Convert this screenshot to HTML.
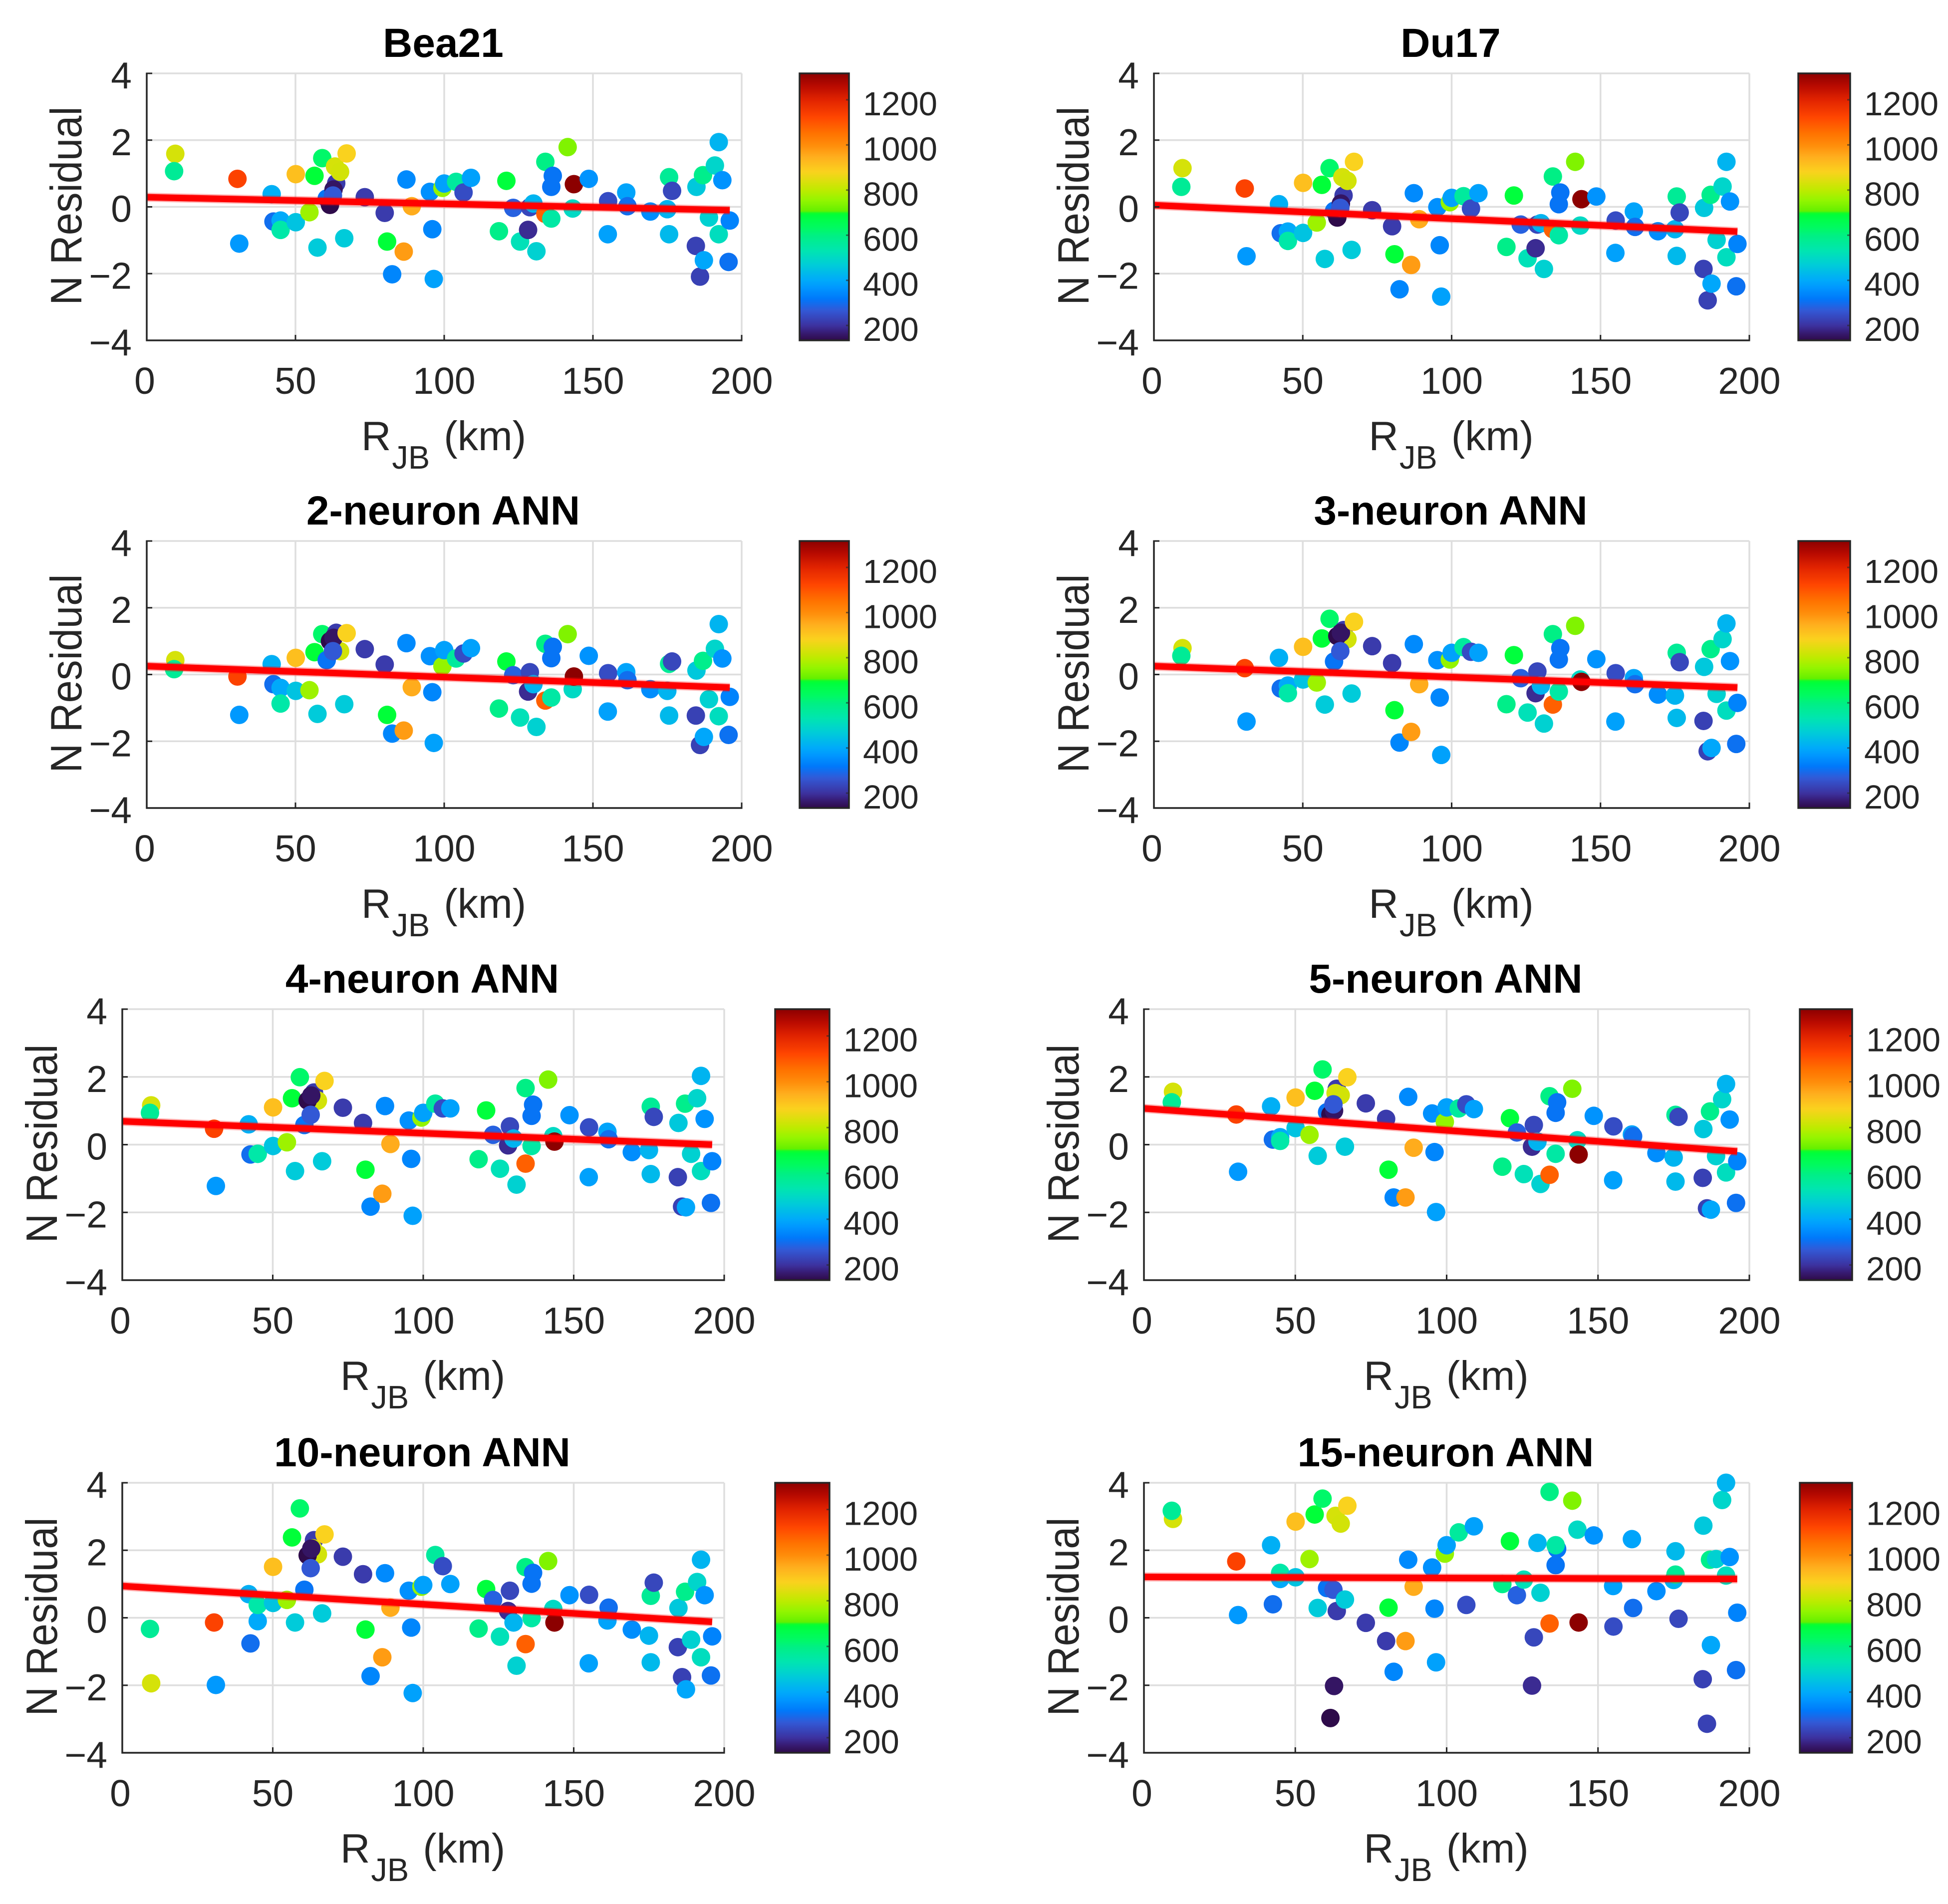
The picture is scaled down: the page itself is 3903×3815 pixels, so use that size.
<!DOCTYPE html>
<html lang="en">
<head>
<meta charset="utf-8">
<title>N Residual vs RJB</title>
<style>
html,body{margin:0;padding:0;background:#fff;}
svg{display:block;}
text{font-family:"Liberation Sans",Arial,sans-serif;fill:#262626;}
</style>
</head>
<body>
<svg id="chart" xmlns="http://www.w3.org/2000/svg" width="3903" height="3815" viewBox="0 0 3903 3815">
<defs id="defs"></defs>
<rect width="3903" height="3815" fill="#ffffff"></rect>
</svg>
<script>
const rjb = [9.6,9.2,30.5,31.1,42,42.6,45,45,50.1,50.1,
54.7,56.4,57.4,59,60.5,63.7,63.3,65,61.6,62.8,
62.6,66.4,67.2,73.3,80,80.8,82.5,86.4,87.3,89.1,
95.2,96,96.5,99.4,100,104,106.5,109,118.4,120.9,
123.2,125.5,128.2,128.8,130,131,134,134,136,136.5,
136,141.5,143.2,143.6,148.6,155,155.1,161.2,161.6,169.3,
175,175.6,175.6,176.6,184.6,184.8,186,187,187.3,189,
191,192.3,192.3,193.5,195.6,196];
const colorValues = [830,570,1130,370,410,300,400,545,450,915,
765,690,465,625,310,215,830,825,135,155,
265,465,880,215,215,690,340,975,345,950,
355,340,385,755,385,560,245,385,590,685,
280,520,190,235,420,480,595,1080,310,310,
550,735,500,1317,360,385,245,390,300,350,
420,430,570,235,225,460,225,585,395,480,
490,510,420,360,305,335];
const residualsBea21 = [1.59,1.07,.84,-1.10,.38,-.44,-.41,-.69,-.46,.98,
-.16,.93,-1.22,1.46,.25,.71,1.21,1.05,.06,.52,
.34,-.94,1.6,.29,-.18,-1.04,-2.02,-1.34,.82,.02,
.45,-.67,-2.16,.57,.7,.75,.43,.87,-.73,.78,
-.03,-1.04,-.69,-.01,.1,-1.33,1.35,-.21,.6,.93,
-.35,1.79,-.05,.68,.84,-.82,.17,.43,.02,-.14,
-.07,-.82,.89,.48,-1.17,.6,-2.09,.95,-1.6,-.32,
1.24,-.82,1.94,.8,-1.65,-.41];
const residualsDu17 = [1.16,.60,.55,-1.48,.08,-.79,-.74,-1.02,-.78,.72,
-.47,.66,-1.56,1.16,-.12,.34,.89,.78,-.32,.1,
-.03,-1.29,1.35,-.10,-.58,-1.42,-2.47,-1.74,.41,-.37,
-.01,-1.15,-2.69,.14,.27,.32,-.05,.41,-1.2,.34,
-.53,-1.54,-1.24,-.53,-.49,-1.86,.91,-.67,.08,.43,
-.85,1.35,-.56,.23,.31,-1.38,-.41,-.14,-.60,-.73,
-.67,-1.47,.31,-.17,-1.86,-.03,-2.80,.36,-2.30,-.99,
.61,-1.51,1.35,.16,-2.38,-1.11];
const residualsAnn2 = [.43,.16,-.06,-1.21,.31,-.29,-.40,-.87,-.49,.50,
-.47,.67,-1.18,1.21,.43,1.25,.74,.70,1.0,1.1,
.70,-.89,1.24,.76,.30,-1.21,-1.77,-1.68,.94,-.38,
.55,-.53,-2.05,.25,.73,.48,.63,.79,-1.02,.39,
-.02,-1.29,-.51,.07,-.29,-1.57,.92,-.78,.49,.83,
-.69,1.21,-.44,-.06,.56,-1.11,.04,.07,-.17,-.44,
-.49,-1.23,.32,.39,-1.23,.12,-2.11,.41,-1.87,-.74,
.77,-1.25,1.51,.48,-1.81,-.67];
const residualsAnn3 = [.79,.56,.19,-1.41,.50,-.42,-.33,-.56,-.15,.83,
-.24,1.08,-.90,1.67,.39,1.33,1.15,1.06,1.15,1.25,
.70,-.57,1.58,.85,.34,-1.07,-2.04,-1.72,.91,-.29,
.43,-.69,-2.41,.45,.65,.82,.68,.65,-.89,.58,
-.11,-1.14,-.56,.09,-.33,-1.47,1.21,-.90,.45,.79,
-.51,1.46,-.15,-.22,.46,-1.41,.04,-.11,-.29,-.60,
-.63,-1.30,.65,.37,-1.39,.23,-2.30,.76,-2.20,-.58,
1.06,-1.08,1.53,.40,-2.08,-.85];
const residualsAnn4 = [1.16,.94,.47,-1.22,.60,-.29,-.27,-.27,-.04,1.10,
.07,1.37,-.78,1.99,.58,1.54,1.39,1.30,1.30,1.45,
.88,-.49,1.88,1.09,.64,-.74,-1.83,-1.45,1.14,.02,
.71,-.42,-2.10,.80,.94,1.21,1.07,1.07,-.43,1.01,
.29,-.71,-.02,.54,.18,-1.18,1.67,-.56,.85,1.18,
-.04,1.92,.25,.09,.87,-.96,.51,.38,.16,-.22,
-.16,-.87,1.12,.82,-.96,.64,-1.83,1.21,-1.85,-.27,
1.37,-.78,2.03,.76,-1.72,-.49];
const residualsAnn5 = [1.56,1.25,.89,-.80,1.13,.15,.22,.11,.49,1.39,
.29,1.59,-.33,2.22,.96,1.65,1.52,1.46,.89,1.0,
1.19,-.06,1.99,1.22,.76,-.74,-1.56,-1.56,1.41,-.09,
.92,-.22,-1.99,.67,1.10,1.07,1.19,1.05,-.65,.78,
.36,-.87,-.06,.58,.09,-1.16,1.43,-.89,.94,1.25,
-.27,1.65,.13,-.29,.85,-1.05,.54,.3,.25,-.25,
-.38,-1.09,.88,.82,-.98,.46,-1.88,.98,-1.92,-.34,
1.34,-.82,1.79,.74,-1.72,-.49];
const residualsAnn10 = [-1.94,-.33,-.14,-1.99,.70,-.76,-.10,.38,.44,1.51,
.53,2.38,-.14,3.24,.83,2.3,2.06,1.88,1.85,2.05,
1.47,.13,2.47,1.81,1.29,-.35,-1.73,-1.17,1.32,.30,
.80,-.29,-2.23,.92,.97,1.86,1.53,1.00,-.32,.85,
.53,-.56,.20,.80,-.14,-1.42,1.50,-.78,1.01,1.33,
-.01,1.68,.26,-.14,.67,-1.35,.68,-.08,.30,-.35,
-.53,-1.32,.65,1.04,-.87,.29,-1.76,.77,-2.12,-.65,
1.06,-1.17,1.72,.67,-1.71,-.55];
const residualsAnn15 = [2.93,3.17,1.67,.08,2.15,.40,1.15,1.33,1.20,2.85,
1.74,3.06,.29,3.53,.88,.20,3.02,2.79,-2.97,-2.02,
.83,.54,3.32,-.15,-.69,.30,-1.60,-.69,1.72,.92,
1.49,.27,-1.32,1.90,2.15,2.53,.38,2.71,1.00,2.27,
.67,1.13,-2.01,-.58,2.22,.74,3.73,-.17,1.56,2.04,
2.15,3.47,2.61,-.14,2.44,.94,-.26,2.33,.29,.79,
1.12,1.97,1.28,-.03,-1.82,2.73,-3.14,1.72,-.81,1.74,
3.49,1.25,4.0,1.80,-1.55,.15];
const panelTitles = ["Bea21","Du17","2-neuron ANN","3-neuron ANN","4-neuron ANN","5-neuron ANN","10-neuron ANN","15-neuron ANN"];
const fitAtZero = [.29,.05,.25,.25,.69,1.07,.94,1.21];
const fitAtEnd = [-.10,-.74,-.39,-.39,0,-.20,-.12,1.15];
const fitEndDistance = 196;
const xTicks = [0,50,100,150,200];
const yTicks = [-4,-2,0,2,4];
const colorTicks = [200,400,600,800,1000,1200];
const xDomain = [0,200];
const yDomain = [-4,4];
const colorDomain = [134,1317];

// turbo-like colormap
const cmapValues = [132,164,200,268,317,365,400,470,534,600,630,687,696,707,752,800,832,880,945,1000,1050,1122,1200,1260,1317];
const cmapColors = [[45,10,70],[55,25,110],[60,50,160],[50,90,215],[0,120,250],[0,150,255],[0,170,250],[0,205,215],[0,230,175],[0,240,130],[0,250,100],[0,255,60],[0,255,50],[100,240,0],[145,245,0],[190,235,0],[215,225,10],[250,210,30],[255,175,30],[255,140,10],[255,115,0],[255,70,0],[225,35,0],[185,10,0],[140,0,0]];

// layout of each panel: axes box and colour bar box
const panelLayout = [
  {l:294,r:1486,t:147,b:682,cl:1602,cr:1701},
  {l:2312,r:3505,t:147,b:682,cl:3603,cr:3707},
  {l:294,r:1486,t:1084,b:1619,cl:1602,cr:1701},
  {l:2312,r:3505,t:1084,b:1619,cl:3603,cr:3707},
  {l:245,r:1451,t:2022,b:2565,cl:1553,cr:1662},
  {l:2292,r:3505,t:2022,b:2565,cl:3606,cr:3711},
  {l:245,r:1451,t:2971,b:3512,cl:1553,cr:1662},
  {l:2292,r:3505,t:2971,b:3512,cl:3606,cr:3711}
];
const panelResiduals = [residualsBea21,residualsDu17,residualsAnn2,residualsAnn3,residualsAnn4,residualsAnn5,residualsAnn10,residualsAnn15];

const NS = "http://www.w3.org/2000/svg";
const svg = document.getElementById("chart");
const defs = document.getElementById("defs");

function make(tag, attrs, parent){
  const el = document.createElementNS(NS, tag);
  for (const k in attrs) el.setAttribute(k, attrs[k]);
  parent.appendChild(el);
  return el;
}
function colorFor(v){
  if (v <= cmapValues[0]) return "rgb(" + cmapColors[0].join(",") + ")";
  for (let i = 1; i < cmapValues.length; i++){
    if (v <= cmapValues[i]){
      const f = (v - cmapValues[i-1]) / (cmapValues[i] - cmapValues[i-1]);
      const a = cmapColors[i-1], b = cmapColors[i];
      return "rgb(" + Math.round(a[0]+(b[0]-a[0])*f) + "," + Math.round(a[1]+(b[1]-a[1])*f) + "," + Math.round(a[2]+(b[2]-a[2])*f) + ")";
    }
  }
  return "rgb(" + cmapColors[cmapColors.length-1].join(",") + ")";
}

const gradient = make("linearGradient", {id:"cmap", x1:"0", y1:"1", x2:"0", y2:"0"}, defs);
for (let i = 0; i <= 128; i++){
  const v = colorDomain[0] + (colorDomain[1]-colorDomain[0]) * i / 128;
  make("stop", {offset:(i/128).toFixed(4), "stop-color":colorFor(v)}, gradient);
}

function tickName(v){ return String(v).replace("-", "minus-"); }

panelTitles.forEach(function(title, p){
  const box = panelLayout[p];
  const values = panelResiduals[p];
  const slug = title.toLowerCase().replace(/\s+/g, "-");
  const xScale = function(v){ return box.l + (v - xDomain[0]) / (xDomain[1] - xDomain[0]) * (box.r - box.l); };
  const yScale = function(v){ return box.b - (v - yDomain[0]) / (yDomain[1] - yDomain[0]) * (box.b - box.t); };
  const cScale = function(v){ return box.b - (v - colorDomain[0]) / (colorDomain[1] - colorDomain[0]) * (box.b - box.t); };

  const g = make("g", {}, svg);
  
  

  // grid
  xTicks.forEach(function(t){
    if (t === xDomain[0]) return;
    const line = make("line", {x1:xScale(t), x2:xScale(t), y1:box.t, y2:box.b, stroke:"#dedede", "stroke-width":3.5}, g);
    
    
  });
  yTicks.forEach(function(t){
    if (t === yDomain[0]) return;
    const line = make("line", {x1:box.l, x2:box.r, y1:yScale(t), y2:yScale(t), stroke:"#dedede", "stroke-width":3.5}, g);
    
    
  });

  // points
  rjb.forEach(function(d, i){
    const dot = make("circle", {cx:xScale(d), cy:yScale(values[i]), r:18.5, fill:colorFor(colorValues[i])}, g);
    
    
  });

  // fit line
  const endY = fitAtEnd[p];
  const halo = make("line", {x1:xScale(0), y1:yScale(fitAtZero[p]), x2:xScale(fitEndDistance), y2:yScale(endY), stroke:"#ff0000", "stroke-opacity":.3, "stroke-width":18}, g);
  
  
  const fit = make("line", {x1:xScale(0), y1:yScale(fitAtZero[p]), x2:xScale(fitEndDistance), y2:yScale(endY), stroke:"#ff0000", "stroke-width":13}, g);
  
  

  // axes lines
  const xAxis = make("line", {x1:box.l-1.5, x2:box.r+1.5, y1:box.b, y2:box.b, stroke:"#262626", "stroke-width":3.5}, g);
  
  
  const yAxis = make("line", {x1:box.l, x2:box.l, y1:box.t-1.5, y2:box.b+1.5, stroke:"#262626", "stroke-width":3.5}, g);
  
  

  // x ticks
  xTicks.forEach(function(t){
    const mark = make("line", {x1:xScale(t), x2:xScale(t), y1:box.b, y2:box.b-11, stroke:"#262626", "stroke-width":3}, g);
    
    
    const label = make("text", {x:xScale(t) + (t === 0 ? -4 : 0), y:box.b+107, "text-anchor":"middle", "font-size":75}, g);
    label.textContent = String(t);
    
    
  });

  // y ticks
  yTicks.forEach(function(t){
    const mark = make("line", {x1:box.l, x2:box.l+11, y1:yScale(t), y2:yScale(t), stroke:"#262626", "stroke-width":3}, g);
    
    
    const label = make("text", {x:box.l-30, y:yScale(t)+30, "text-anchor":"end", "font-size":75}, g);
    label.textContent = t < 0 ? "\u2212" + Math.abs(t) : String(t);
    
    
  });

  // title
  const titleEl = make("text", {x:(box.l+box.r)/2-2, y:box.t-33, "text-anchor":"middle", "font-size":82, "font-weight":"bold"}, g);
  titleEl.textContent = title;
  titleEl.style.fill = "#000000";
  
  

  // y label: slightly condensed along its length, as in the reference
  const yLabelX = box.l - 131;
  const yLabelY = (box.t + box.b) / 2 - 2;
  const yLabel = make("text", {x:0, y:0, "text-anchor":"middle", "font-size":88, transform:"translate(" + yLabelX + " " + yLabelY + ") rotate(-90) scale(.925 1)"}, g);
  yLabel.textContent = "N Residual";
  
  

  // x label
  const xLabel = make("text", {x:(box.l+box.r)/2-1, y:box.b+220, "text-anchor":"middle", "font-size":82.5}, g);
  
  
  const partR = make("tspan", {}, xLabel);
  partR.textContent = "R";
  const partSub = make("tspan", {dy:37, "font-size":65, dx:2}, xLabel);
  partSub.textContent = "JB";
  const partKm = make("tspan", {dy:-37, dx:28}, xLabel);
  partKm.textContent = "(km)";

  // colour bar
  const barGroup = make("g", {}, g);
  
  
  const bar = make("rect", {x:box.cl, y:box.t, width:box.cr-box.cl, height:box.b-box.t, fill:"url(#cmap)", stroke:"#262626", "stroke-width":3.5}, barGroup);
  
  
  colorTicks.forEach(function(t){
    const mark = make("line", {x1:box.cr-6, x2:box.cr, y1:cScale(t), y2:cScale(t), stroke:"#262626", "stroke-opacity":.6, "stroke-width":3}, barGroup);
    
    
    const label = make("text", {x:box.cr+28, y:cScale(t)+31, "font-size":67}, barGroup);
    label.textContent = String(t);
    
    
  });
});
</script>
</body>
</html>
